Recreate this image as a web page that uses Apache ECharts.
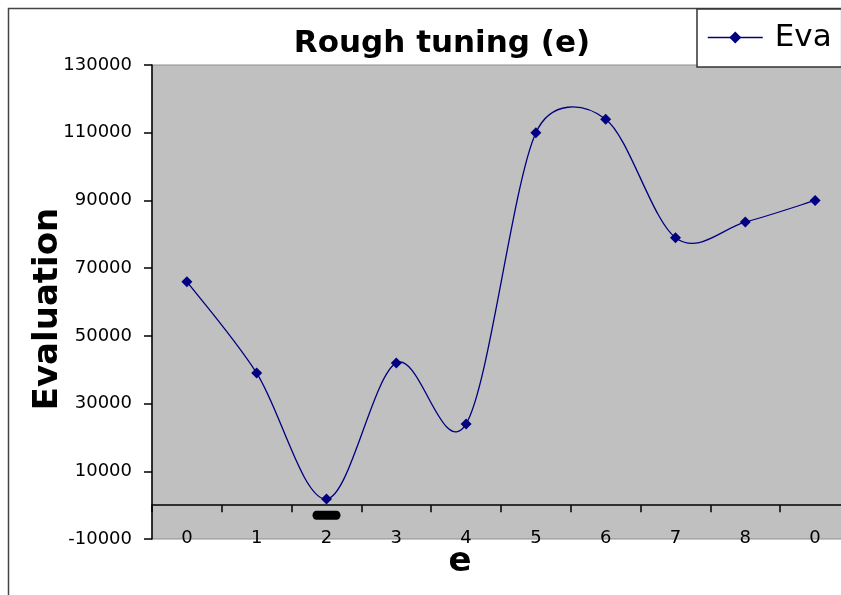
<!DOCTYPE html>
<html>
<head>
<meta charset="utf-8">
<script src="https://cdn.jsdelivr.net/npm/echarts@6/dist/echarts.min.js"></script>
<style>
  html, body { margin: 0; padding: 0; background: #fff; }
  #chart { width: 841px; height: 595px; }
</style>
</head>
<body>
<div id="chart"></div>
<script>
// Category labels along the e axis
const categories = ['0', '1', '2', '3', '4', '5', '6', '7', '8', '0'];
// Evaluation score for each e setting
const evaluation = [66000, 39000, 1800, 42000, 24000, 110000, 114000, 79000, 83600, 90000];
// Position of the black marker under the best setting (category index, value)
const bestMarker = [2, -3000];

const FONT = 'DejaVu Sans';
const NAVY = '#000080';
const chart = echarts.init(document.getElementById('chart'), null, { renderer: 'canvas' });

// Smoothed segment between point i and i+1 (cardinal spline, tangent = (next - prev) / 6,
// each control arm limited to half of its segment length).
function curveSegment(params, api) {
  const i = params.dataIndex;
  const n = evaluation.length;
  if (i >= n - 1) return null;
  const clampIdx = (j) => Math.max(0, Math.min(n - 1, j));
  const pt = (j) => api.coord([clampIdx(j), evaluation[clampIdx(j)]]);
  const p0 = pt(i - 1), p1 = pt(i), p2 = pt(i + 1), p3 = pt(i + 2);
  const segLen = Math.hypot(p2[0] - p1[0], p2[1] - p1[1]);
  const arm = (a, b) => {
    let dx = (b[0] - a[0]) / 6, dy = (b[1] - a[1]) / 6;
    const len = Math.hypot(dx, dy);
    const cap = segLen / 2;
    if (len > cap && len > 0) { dx *= cap / len; dy *= cap / len; }
    return [dx, dy];
  };
  const t1 = arm(p0, p2);
  const t2 = arm(p1, p3);
  return {
    type: 'bezierCurve',
    shape: {
      x1: p1[0], y1: p1[1],
      x2: p2[0], y2: p2[1],
      cpx1: p1[0] + t1[0], cpy1: p1[1] + t1[1],
      cpx2: p2[0] - t2[0], cpy2: p2[1] - t2[1]
    },
    style: { stroke: NAVY, lineWidth: 1.3, fill: null },
    silent: true
  };
}

chart.setOption({
  animation: false,
  backgroundColor: '#ffffff',
  title: {
    text: 'Rough tuning (e)',
    left: 442,
    top: 28,
    textAlign: 'center',
    padding: 0,
    textStyle: { fontFamily: FONT, fontWeight: 'bold', fontSize: 31, color: '#000' }
  },
  legend: {
    left: 697,
    top: 9,
    orient: 'horizontal',
    backgroundColor: '#ffffff',
    borderColor: '#333',
    borderWidth: 1.5,
    borderRadius: 0,
    padding: [13, 10, 14, 10],
    itemWidth: 55,
    itemHeight: 15,
    textStyle: {
      fontFamily: FONT, fontSize: 31, color: '#000', padding: [0, 0, 0, 7],
      width: 60, overflow: 'truncate', ellipsis: ''
    },
    lineStyle: { color: NAVY, width: 1.5, opacity: 1 },
    data: ['Evaluation']
  },
  graphic: [{
    type: 'rect',
    z: -10,
    silent: true,
    shape: { x: 8.5, y: 8.5, width: 900, height: 700 },
    style: { fill: 'none', stroke: '#444', lineWidth: 1.5 }
  }],
  grid: {
    left: 152,
    right: -9,
    top: 65,
    bottom: 56,
    show: true,
    backgroundColor: '#c0c0c0',
    borderWidth: 1,
    borderColor: '#8f8f8f',
    containLabel: false,
    outerBoundsMode: 'none'
  },
  xAxis: {
    type: 'category',
    data: categories,
    boundaryGap: true,
    name: 'e',
    nameLocation: 'middle',
    nameGap: 6,
    nameMoveOverlap: false,
    nameTextStyle: { fontFamily: FONT, fontWeight: 'bold', fontSize: 34, color: '#000', padding: [0, 82, 0, 0] },
    axisLine: { onZero: true, lineStyle: { color: '#000', width: 1.5 } },
    axisTick: { show: true, inside: false, length: 7, lineStyle: { color: '#000', width: 1.5 } },
    axisLabel: { margin: -10, fontFamily: FONT, fontSize: 18, color: '#000' },
    splitLine: { show: false }
  },
  yAxis: {
    type: 'value',
    min: -10000,
    max: 130000,
    interval: 20000,
    name: 'Evaluation',
    nameLocation: 'middle',
    nameGap: 87,
    nameMoveOverlap: false,
    nameTextStyle: { fontFamily: FONT, fontWeight: 'bold', fontSize: 34, color: '#000', padding: [0, 14, 0, 0] },
    axisLine: { show: true, lineStyle: { color: '#000', width: 1.5 } },
    axisTick: { show: true, length: 8, lineStyle: { color: '#000', width: 1.5 } },
    axisLabel: { margin: 20, fontFamily: FONT, fontSize: 18, color: '#000', formatter: (v) => String(v) },
    splitLine: { show: false }
  },
  series: [{
    name: 'Evaluation',
    type: 'line',
    data: evaluation,
    symbol: 'diamond',
    symbolSize: 11,
    lineStyle: { color: NAVY, width: 1.3, opacity: 0 },
    itemStyle: { color: NAVY },
    z: 3,
    markPoint: {
      silent: true,
      symbol: 'path://M4,0 L24,0 A4,4 0 0 1 24,8 L4,8 A4,4 0 0 1 4,0 Z',
      symbolSize: [28, 9],
      itemStyle: { color: '#000' },
      label: { show: false },
      data: [{ coord: bestMarker }]
    }
  }, {
    name: 'Evaluation',
    type: 'custom',
    data: evaluation,
    z: 2,
    renderItem: curveSegment
  }]
});
</script>
</body>
</html>
